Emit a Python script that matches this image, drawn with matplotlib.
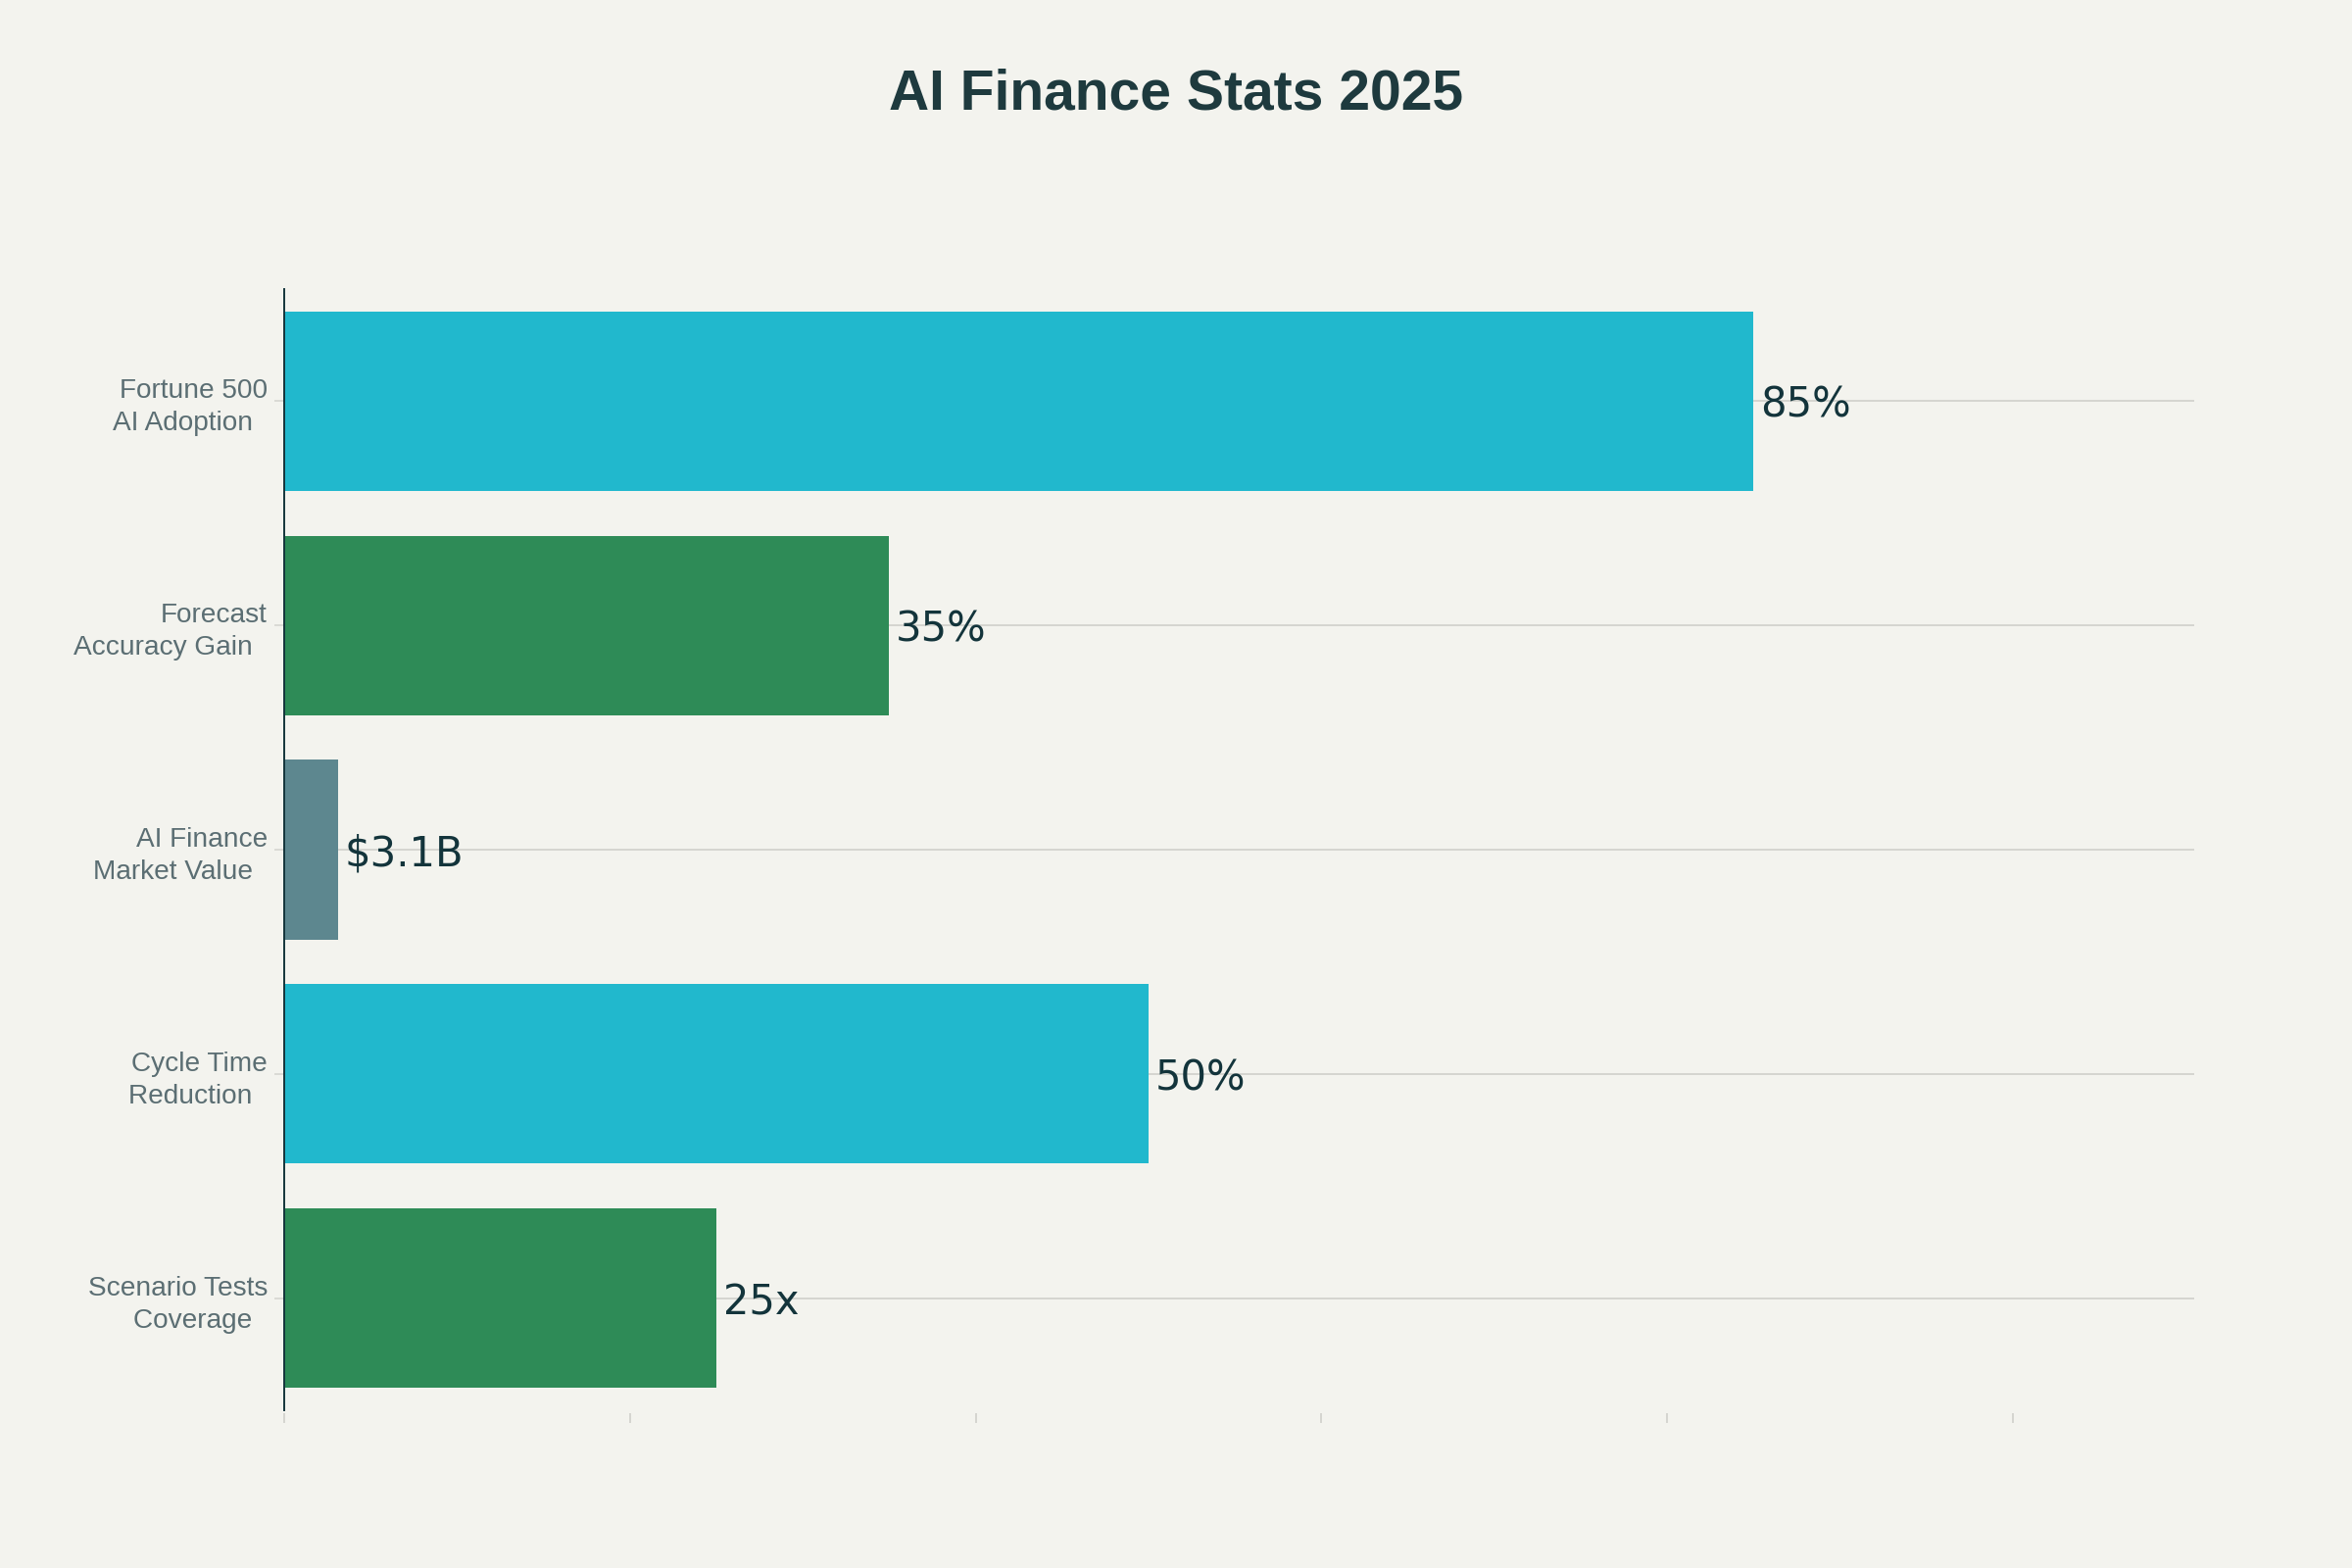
import matplotlib
matplotlib.use("Agg")
import matplotlib.pyplot as plt

categories = ["Fortune 500\nAI Adoption  ", "Forecast\nAccuracy Gain  ", "AI Finance\nMarket Value  ",
              "Cycle Time\nReduction  ", "Scenario Tests\nCoverage  "]
values = [85, 35, 3.1, 50, 25]
labels = ["85%", "35%", "$3.1B", "50%", "25x"]
colors = ["#21B8CD", "#2E8B57", "#5D878F", "#21B8CD", "#2E8B57"]
xticks = [0, 20, 40, 60, 80, 100]

bg = "#F3F3EE"
fig = plt.figure(figsize=(12, 8), dpi=200, facecolor=bg)
ax = fig.add_axes([290/2400, 1-1439/1600, (2239-290)/2400, (1439-295)/1600])
ax.set_facecolor(bg)

ypos = list(range(len(categories)))
ax.barh(ypos, values, height=0.8, color=colors, zorder=2)
for y, v, t in zip(ypos, values, labels):
    ax.annotate(t, (v, y), xytext=(2.5, 0), textcoords="offset points",
                ha="left", va="center_baseline", fontsize=15, color="#13343B",
                family="DejaVu Sans", zorder=3)

ax.set_ylim(4.5, -0.5)
ax.set_xlim(0, 110.5)
ax.set_yticks(ypos)
ax.set_yticklabels(categories, family="Liberation Sans", fontsize=10.1, color="#5B6E73",
                   linespacing=1.35)
ax.set_xticks(xticks)
ax.set_xticklabels([])
ax.grid(axis="y", color="#D5D5D0", linewidth=0.7, zorder=0)
ax.grid(axis="x", visible=False)
ax.tick_params(axis="y", length=3.6, width=0.6, color="#D5D5D0", pad=2.5)
ax.tick_params(axis="x", length=3.6, width=0.6, color="#D0D0CB")
for s in ["top", "right", "bottom"]:
    ax.spines[s].set_visible(False)
ax.spines["left"].set_color("#13343B")
ax.spines["left"].set_linewidth(0.7)
ax.spines["bottom"].set_position(("outward", 1))

fig.text(0.5, 1-97/1600, "AI Finance Stats 2025", ha="center", va="center",
         fontsize=20.5, fontweight="bold", color="#1E3A3E", family="Liberation Sans")

fig.savefig("out.png", dpi=200, facecolor=bg)
